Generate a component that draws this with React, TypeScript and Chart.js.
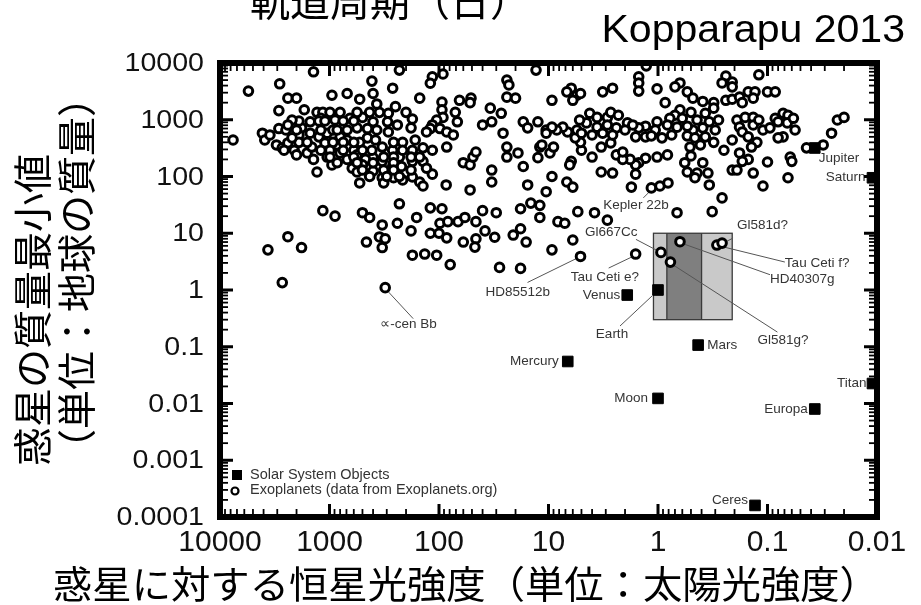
import { useEffect, useRef } from 'react';
import { Chart, registerables } from 'chart.js';

Chart.register(...registerables);

// Axis ticks (stellar flux decreases to the right)
const fluxTicks = [10000, 1000, 100, 10, 1, 0.1, 0.01];
const fluxTickLabels = ['10000', '1000', '100', '10', '1', '0.1', '0.01'];
const massTicks = [10000, 1000, 100, 10, 1, 0.1, 0.01, 0.001, 0.0001];
const massTickLabels = ['10000', '1000', '100', '10', '1', '0.1', '0.01', '0.001', '0.0001'];

// Solar System bodies: stellar flux (Sun = 1) and mass (Earth = 1)
const solarNames = ['Mercury', 'Venus', 'Earth', 'Moon', 'Mars', 'Jupiter', 'Saturn', 'Europa', 'Titan', 'Ceres'];
const solarFlux = [6.67, 1.91, 1, 1, 0.43, 0.037, 0.011, 0.037, 0.011, 0.13];
const solarMass = [0.055, 0.815, 1, 0.0123, 0.107, 318, 95, 0.008, 0.0225, 0.00016];

// Exoplanets called out by name
const namedPlanets = ['∝-cen Bb', 'Kepler 22b', 'HD85512b', 'Tau Ceti e?', 'Gl667Cc', 'Gl581g?', 'HD40307g', 'Tau Ceti f?', 'Gl581d?'];
const namedFlux = [310, 1.15, 5.1, 1.6, 0.94, 0.77, 0.63, 0.29, 0.26];
const namedMass = [1.1, 63, 3.9, 4.3, 4.6, 3.1, 7.1, 6.2, 6.7];

// Other exoplanets: [flux, minimum mass]
const exoplanets: [number, number][] = [
  [1400, 7000], [230, 7500], [92, 6400], [115, 5700], [13, 7500], [5500, 3200], [2850, 4300], [410, 4800],
  [120, 4400], [265, 3600], [24, 5000], [23, 4100], [2400, 2400], [2000, 2400], [950, 2700], [690, 2900],
  [530, 2300], [400, 2900], [150, 2400], [2900, 1450], [94, 2050], [65, 2200], [51, 2400], [52, 2000],
  [34, 1600], [24, 2500], [20, 2400], [27, 1300], [9.3, 2200], [94, 1500], [71, 1350], [92, 1100],
  [105, 990], [115, 810], [120, 700], [98, 700], [85, 610], [74, 540], [68, 920], [175, 1030],
  [290, 1300], [295, 920], [290, 610], [430, 1350], [500, 1100], [400, 920], [650, 1060], [560, 720],
  [450, 700], [1300, 1350], [1150, 1350], [1500, 920], [1200, 1060], [950, 1100], [890, 990], [1800, 720],
  [1900, 540], [4100, 580], [3900, 440], [2900, 700], [2500, 660], [7600, 440], [3050, 360], [2700, 320],
  [2400, 390], [2100, 290], [2000, 240], [1600, 260], [1450, 330], [1500, 580], [1250, 500], [1050, 580],
  [930, 660], [800, 500], [690, 440], [1100, 390], [850, 360], [1200, 290], [1400, 200], [1050, 220],
  [950, 160], [800, 260], [690, 200], [600, 290], [530, 400], [450, 480], [380, 440], [330, 330],
  [265, 290], [230, 220], [175, 290], [140, 320], [140, 185], [175, 185], [220, 150], [265, 150],
  [330, 185], [400, 215], [470, 200], [560, 240], [620, 140], [560, 120], [500, 160], [400, 125],
  [430, 100], [330, 95], [320, 77], [530, 77], [260, 95], [215, 87], [175, 98], [150, 80],
  [140, 68], [1300, 120], [115, 110], [85, 330], [86, 71], [60, 175], [52, 160], [49, 220],
  [46, 270], [33, 130], [33, 80], [26, 580], [24, 330], [19, 260], [17, 150], [24, 220],
  [17, 920], [15.5, 720], [12.5, 920], [10.5, 660], [12, 330], [9.7, 260], [12.5, 215], [9, 330],
  [9.3, 100], [15.5, 71], [10.5, 54], [40, 810], [33, 920], [52, 58],
  [1150, 25], [890, 20], [500, 23], [430, 19], [230, 33], [330, 14], [240, 15], [180, 11],
  [160, 19], [120, 28], [94, 27], [98, 15], [83, 16], [67, 16], [58, 19], [120, 10],
  [100, 10], [85, 8.3], [60, 7], [46, 16], [38, 11], [46, 8], [40, 25], [30, 23],
  [18, 27], [14.5, 34], [12, 31], [12, 19], [18, 12], [21, 9.3], [31, 8.5], [16, 7],
  [8.2, 16], [9.3, 5.1], [2400, 8.7], [1800, 5.6], [3650, 5.1], [460, 7], [350, 8.6], [330, 5.6],
  [47, 5.7], [2700, 1.35], [310, 8], [175, 4.1], [135, 4.3], [105, 4.1], [79, 2.8], [28, 2.5], [18, 2.4],
  [1.28, 8900], [1.5, 5700], [1.5, 4450], [1.5, 3200], [1.02, 3500], [0.24, 5900], [0.26, 4450], [0.21, 4600],
  [0.21, 3800], [0.12, 6200], [0.63, 4450], [0.7, 3800], [0.54, 3100], [0.48, 2400], [0.39, 2100], [0.31, 2000],
  [0.24, 2200], [0.21, 2300], [0.18, 2500], [0.15, 3100], [0.13, 3100], [0.1, 3100], [0.085, 3100], [0.135, 2400],
  [0.17, 2000], [0.86, 2000], [0.63, 1500], [0.7, 1200], [0.6, 1060], [0.5, 1350], [0.44, 990], [0.37, 1300],
  [0.31, 1600], [0.34, 920], [0.28, 990], [0.3, 660], [0.39, 720], [0.48, 660], [0.54, 770], [0.67, 740],
  [0.75, 540], [0.78, 1060], [0.82, 810], [1.02, 920], [1.06, 660], [1.3, 770], [1.5, 720], [1.6, 500],
  [1.3, 500], [1.15, 520], [0.92, 480], [0.54, 520], [0.46, 480], [0.37, 500], [0.41, 360], [0.51, 330],
  [0.31, 400], [0.25, 290], [0.21, 440], [0.19, 990], [0.18, 740], [0.17, 610], [0.15, 500], [0.16, 1100],
  [0.135, 1100], [0.135, 810], [0.12, 990], [0.11, 660], [0.095, 720], [0.085, 1060], [0.08, 920], [0.072, 1300],
  [0.065, 1200], [0.066, 880], [0.058, 1060], [0.056, 660], [0.072, 500], [0.08, 480], [0.125, 400], [0.14, 330],
  [0.18, 260], [0.21, 130], [0.19, 130], [0.15, 200], [0.135, 115], [0.17, 185], [0.1, 180], [0.062, 220],
  [0.06, 185], [0.065, 95], [0.11, 68], [0.044, 320], [0.031, 360], [0.026, 580], [0.023, 990], [0.02, 1100],
  [0.26, 42], [0.32, 24], [0.67, 23], [0.96, 68], [0.81, 77], [1.75, 65], [0.34, 71], [0.57, 175],
  [0.54, 120], [0.44, 115], [0.46, 95], [0.35, 115], [0.39, 175], [0.5, 230], [0.82, 240], [1.02, 220],
  [1.3, 210], [1.5, 175], [1.6, 160], [1.8, 200], [1.6, 110], [2.4, 240], [2.1, 200], [2.1, 270],
  [3.3, 120], [2.6, 115], [2.7, 390], [3.3, 330], [4, 220], [6.2, 185], [6.4, 160], [5, 290],
  [5.1, 400], [5.7, 480], [6.7, 610], [7.4, 740], [8.4, 660], [9.3, 740], [10.5, 580], [11.5, 360],
  [6.8, 80], [6, 65], [7.1, 15], [6, 7.6], [5.4, 24], [3.8, 23], [2.9, 17], [5.5, 2700],
  [6.2, 3600], [6.8, 3100], [6, 2200], [5.1, 2900], [3.2, 3100], [2.6, 3600], [4.2, 1300], [3.6, 1100],
  [2.9, 1100], [2.7, 1350], [2.3, 1200], [1.9, 880], [1.7, 810], [2, 660], [2.4, 720], [2.9, 810],
  [3.6, 740], [4.5, 880], [5.2, 990], [5.5, 660], [5, 580], [4, 540], [3.2, 580], [2.6, 540],
  [1900, 950], [1250, 950], [1100, 950], [750, 950], [600, 950], [2000, 660], [1200, 660], [850, 660],
  [690, 660], [370, 660], [1900, 400], [1600, 400], [930, 400], [750, 400], [600, 400], [260, 400],
  [215, 400], [2600, 290], [990, 290], [750, 290], [500, 290], [410, 290], [215, 290], [115, 290],
  [990, 220], [600, 220], [320, 220], [260, 220], [180, 220], [150, 220], [850, 175], [560, 175],
  [400, 175], [260, 175], [130, 140], [500, 130], [320, 130], [260, 130], [180, 130], [300, 100],
  [230, 100], [990, 1350], [800, 1350], [560, 1350], [350, 1350], [250, 1700], [1700, 1500], [2200, 990],
  [2400, 810], [3500, 540], [2200, 480], [165, 440], [130, 610], [180, 720], [240, 810], [200, 1350],
  [370, 1900],
];

// Habitable zone: outer (light) and conservative (dark) flux limits, mass span
const habitableOuter = [1.1, 0.21];
const habitableInner = [0.83, 0.4];
const habitableMass = [0.3, 10];

const xTitle = '惑星に対する恒星光強度（単位：太陽光強度）';
const yTitleLines = ['惑星の質量最小値', '（単位：地球の質量）'];
const topTitle = '軌道周期（日）';
const sourceNote = 'Kopparapu 2013';
const legendLabels = ['Solar System Objects', 'Exoplanets (data from Exoplanets.org)'];

const LATIN = "'Liberation Sans', Arial, Helvetica, sans-serif";
const CJK = "'Noto Sans CJK JP', 'Noto Sans CJK SC', sans-serif";

type Placement = { dx: number; dy: number; align: CanvasTextAlign; lead?: [number, number, number, number] };

// Label offsets (px) from the mark they describe, with optional leader line
const placement: Record<string, Placement> = {
  Mercury: { dx: -9, dy: 0, align: 'right' },
  Venus: { dx: -7, dy: 0, align: 'right' },
  Earth: { dx: -46, dy: 44, align: 'center', lead: [-38, 36, -6, 6] },
  Moon: { dx: -10, dy: 0, align: 'right' },
  Mars: { dx: 9, dy: 0, align: 'left' },
  Jupiter: { dx: 4, dy: 10, align: 'left' },
  Saturn: { dx: -7, dy: 0, align: 'right' },
  Europa: { dx: -7, dy: 0, align: 'right' },
  Titan: { dx: -6, dy: 0, align: 'right' },
  Ceres: { dx: -7, dy: -5, align: 'right' },
  '∝-cen Bb': { dx: -5, dy: 37, align: 'left', lead: [28, 31, 3, 4] },
  'Kepler 22b': { dx: -48, dy: 17, align: 'left', lead: [-8, 10, 1, 1] },
  HD85512b: { dx: -95, dy: 36, align: 'left', lead: [-53, 26, -4, 2] },
  'Tau Ceti e?': { dx: -65, dy: 23, align: 'left', lead: [-27, 14, -4, 3] },
  Gl667Cc: { dx: -76, dy: -20, align: 'left', lead: [-25, -13, -4, -2] },
  'Gl581g?': { dx: 87, dy: 78, align: 'left', lead: [107, 70, 3, 3] },
  HD40307g: { dx: 90, dy: 38, align: 'left', lead: [90, 33, 3, 2] },
  'Tau Ceti f?': { dx: 68, dy: 18, align: 'left', lead: [68, 17, 3, 1] },
  'Gl581d?': { dx: 15, dy: -18, align: 'left', lead: [11, -5, 3, -1] },
};

const labelled = [
  ...solarNames.map((name, i) => ({ name, flux: solarFlux[i], mass: solarMass[i] })),
  ...namedPlanets.map((name, i) => ({ name, flux: namedFlux[i], mass: namedMass[i] })),
];

function stretchText(ctx: CanvasRenderingContext2D, text: string, x: number, y: number, sx: number, align: CanvasTextAlign) {
  ctx.save();
  ctx.translate(x, y);
  ctx.scale(sx, 1);
  ctx.textAlign = align;
  ctx.fillText(text, 0, 0);
  ctx.restore();
}

const figurePlugin = {
  id: 'figure',
  beforeDatasetsDraw(chart: any) {
    const { ctx, scales } = chart;
    const xs = scales.x;
    const ys = scales.y;
    const top = ys.getPixelForValue(habitableMass[1]);
    const bottom = ys.getPixelForValue(habitableMass[0]);
    const o1 = xs.getPixelForValue(habitableOuter[0]);
    const o2 = xs.getPixelForValue(habitableOuter[1]);
    const i1 = xs.getPixelForValue(habitableInner[0]);
    const i2 = xs.getPixelForValue(habitableInner[1]);
    ctx.save();
    ctx.fillStyle = '#c9c9c9';
    ctx.fillRect(o1, top, o2 - o1, bottom - top);
    ctx.fillStyle = '#7f7f7f';
    ctx.fillRect(i1, top, i2 - i1, bottom - top);
    ctx.strokeStyle = '#3a3a3a';
    ctx.lineWidth = 1.3;
    ctx.strokeRect(o1, top, o2 - o1, bottom - top);
    ctx.beginPath();
    ctx.moveTo(i1, top);
    ctx.lineTo(i1, bottom);
    ctx.moveTo(i2, top);
    ctx.lineTo(i2, bottom);
    ctx.stroke();

    // leader lines from labels to their marks
    ctx.strokeStyle = '#555';
    ctx.lineWidth = 1;
    labelled.forEach((m) => {
      const p = placement[m.name];
      if (!p || !p.lead) return;
      const px = xs.getPixelForValue(m.flux);
      const py = ys.getPixelForValue(m.mass);
      ctx.beginPath();
      ctx.moveTo(px + p.lead[0], py + p.lead[1]);
      ctx.lineTo(px + p.lead[2], py + p.lead[3]);
      ctx.stroke();
    });
    ctx.restore();
  },
  afterDatasetsDraw(chart: any) {
    const { ctx, scales } = chart;
    const xs = scales.x;
    const ys = scales.y;
    ctx.save();
    ctx.fillStyle = '#353535';
    ctx.font = `13.5px ${LATIN}`;
    ctx.textBaseline = 'middle';
    labelled.forEach((m) => {
      const p = placement[m.name];
      if (!p) return;
      const px = xs.getPixelForValue(m.flux);
      const py = ys.getPixelForValue(m.mass);
      ctx.textAlign = p.align;
      ctx.fillText(m.name, px + p.dx, py + p.dy);
    });
    ctx.restore();
  },
  afterDraw(chart: any) {
    const { ctx, chartArea: a, scales } = chart;
    const xs = scales.x;
    const ys = scales.y;
    ctx.save();
    ctx.strokeStyle = '#000';
    const tick = (x1: number, y1: number, x2: number, y2: number, w: number) => {
      ctx.lineWidth = w;
      ctx.beginPath();
      ctx.moveTo(x1, y1);
      ctx.lineTo(x2, y2);
      ctx.stroke();
    };
    const maxMass = Math.max(...massTicks);
    massTicks.forEach((v) => {
      const q = ys.getPixelForValue(v);
      tick(a.left, q, a.left + 13, q, 3);
      tick(a.right, q, a.right - 13, q, 3);
      if (v < maxMass) {
        for (let k = 2; k <= 9; k++) {
          const r = ys.getPixelForValue(v * k);
          tick(a.left, r, a.left + 8, r, 1.8);
          tick(a.right, r, a.right - 8, r, 1.8);
        }
      }
    });
    const maxFlux = Math.max(...fluxTicks);
    fluxTicks.forEach((v) => {
      const q = xs.getPixelForValue(v);
      tick(q, a.bottom, q, a.bottom - 13, 3);
      tick(q, a.top, q, a.top + 13, 3);
      if (v < maxFlux) {
        for (let k = 2; k <= 9; k++) {
          const r = xs.getPixelForValue(v * k);
          tick(r, a.bottom, r, a.bottom - 8, 1.8);
          tick(r, a.top, r, a.top + 8, 1.8);
        }
      }
    });
    ctx.lineWidth = 6;
    ctx.strokeRect(a.left, a.top, a.right - a.left, a.bottom - a.top);

    // tick labels
    ctx.fillStyle = '#111';
    ctx.font = `26px ${LATIN}`;
    ctx.textBaseline = 'middle';
    massTicks.forEach((v, i) => {
      stretchText(ctx, massTickLabels[i], a.left - 16, ys.getPixelForValue(v) + 1, 1.1, 'right');
    });
    ctx.font = `30px ${LATIN}`;
    ctx.textBaseline = 'alphabetic';
    fluxTicks.forEach((v, i) => {
      stretchText(ctx, fluxTickLabels[i], xs.getPixelForValue(v), a.bottom + 34, 1, 'center');
    });

    // legend
    ctx.fillStyle = '#000';
    ctx.fillRect(a.left + 12, a.bottom - 47, 10, 10);
    ctx.beginPath();
    ctx.arc(a.left + 15, a.bottom - 26, 3.5, 0, Math.PI * 2);
    ctx.fillStyle = '#fff';
    ctx.fill();
    ctx.lineWidth = 2.2;
    ctx.stroke();
    ctx.fillStyle = '#333';
    ctx.font = `14.5px ${LATIN}`;
    ctx.textBaseline = 'middle';
    ctx.textAlign = 'left';
    ctx.fillText(legendLabels[0], a.left + 30, a.bottom - 42);
    ctx.fillText(legendLabels[1], a.left + 30, a.bottom - 27);

    // titles
    ctx.fillStyle = '#000';
    ctx.font = `38px ${CJK}`;
    ctx.textBaseline = 'alphabetic';
    stretchText(ctx, xTitle, 53, 598, 1.035, 'left');
    ctx.font = `40px ${CJK}`;
    ctx.textAlign = 'center';
    ctx.fillText(topTitle, 390, 16);
    ctx.font = `39px ${CJK}`;
    ctx.textBaseline = 'middle';
    const yCenters = [[32, 310], [76, 273]];
    yTitleLines.forEach((line, i) => {
      ctx.save();
      ctx.translate(yCenters[i][0], yCenters[i][1]);
      ctx.rotate(-Math.PI / 2);
      ctx.fillText(line, 0, 0);
      ctx.restore();
    });
    ctx.font = `38px ${LATIN}`;
    ctx.textBaseline = 'alphabetic';
    stretchText(ctx, sourceNote, 905, 42, 1.08, 'right');
    ctx.restore();
  },
};

export default function App() {
  const canvasRef = useRef<HTMLCanvasElement | null>(null);

  useEffect(() => {
    const canvas = canvasRef.current;
    if (!canvas) return;
    const chart = new Chart(canvas, {
      type: 'scatter',
      data: {
        datasets: [
          {
            label: legendLabels[0],
            data: solarNames.map((_, i) => ({ x: solarFlux[i], y: solarMass[i] })),
            pointStyle: 'rect',
            pointRadius: 7.5,
            backgroundColor: '#000',
            borderColor: '#000',
            borderWidth: 1,
            clip: false,
          },
          {
            label: legendLabels[1],
            data: [
              ...exoplanets.map(([x, y]) => ({ x, y })),
              ...namedPlanets.map((_, i) => ({ x: namedFlux[i], y: namedMass[i] })),
            ],
            pointStyle: 'circle',
            pointRadius: 4.3,
            borderWidth: 3,
            borderColor: '#000',
            backgroundColor: '#fff',
            clip: false,
          },
        ],
      },
      options: {
        animation: false,
        responsive: false,
        devicePixelRatio: 1,
        events: [],
        layout: { padding: { left: 220, right: 44, top: 63, bottom: 88 } },
        plugins: { legend: { display: false }, tooltip: { enabled: false } },
        scales: {
          x: { type: 'logarithmic', reverse: true, min: 0.01, max: 10000, display: false },
          y: { type: 'logarithmic', min: 0.0001, max: 10000, display: false },
        },
      },
      plugins: [figurePlugin],
    });
    return () => chart.destroy();
  }, []);

  return (
    <div style={{ position: 'fixed', left: 0, top: 0, width: 921, height: 605, background: '#fff' }}>
      <canvas ref={canvasRef} width={921} height={605} style={{ display: 'block' }} />
    </div>
  );
}
